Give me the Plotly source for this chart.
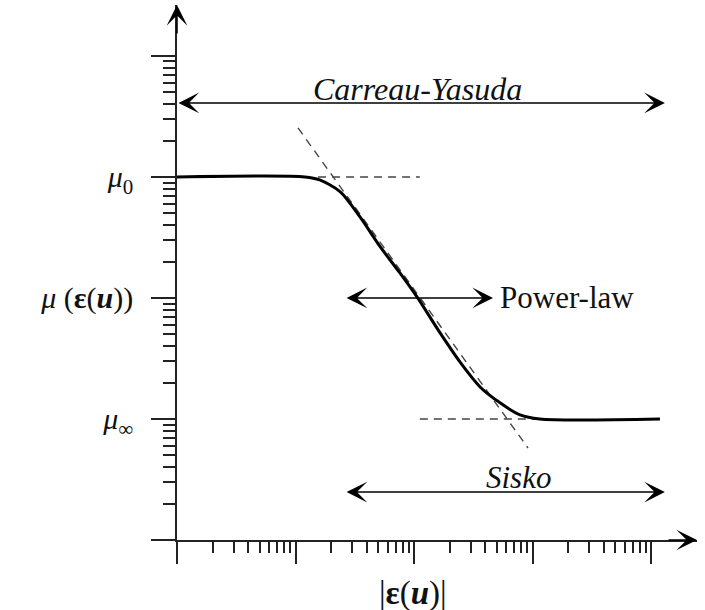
import numpy as np
import plotly.graph_objects as go

# ---- data (log-log schematic) ----
strain_rate = [1, 12, 16, 24, 35, 52, 76, 106, 166, 244, 361, 532, 785, 1150, 11900]
viscosity = [1000, 1000, 945, 751, 467, 264, 161, 102, 51.4, 29.6, 18.4, 13.6, 10.8, 10, 10]

mu0_level = 1000
mu_inf_level = 10
mu0_dash_x = [15.5, 112]
muinf_dash_x = [112, 1157]
powerlaw_dash_x = [10.5, 916]
powerlaw_dash_y = [2541, 5.76]

major_vals = [1, 10, 100, 1000, 10000]
minor_vals = [k * 10 ** n for n in range(4) for k in range(2, 10)]
y_ticktext = [" ", "<i>μ</i><sub>∞</sub>", "<i>μ</i> (<b>ε</b>(<b><i>u</i></b>))", "<i>μ</i><sub>0</sub>", " "]
x_title = "|<b>ε</b>(<b><i>u</i></b>)|"

carreau_span = [1, 13100]
carreau_level = 4090
powerlaw_span = [26.2, 464]
powerlaw_level = 100
sisko_span = [26.2, 13100]
sisko_level = 2.49

label_names = ["<i>Carreau-Yasuda</i>", "Power-law", "<i>Sisko</i>"]
label_x = [106, 512, 755]
label_y = [5330, 100, 3.3]
label_anchor = ["center", "left", "center"]
label_size = [32, 31, 31]

FONT = "Liberation Serif"
AX = "#222222"

fig = go.Figure()

dash_style = dict(color="#444", width=1.4, dash="8px,6px")
fig.add_trace(go.Scatter(x=mu0_dash_x, y=[mu0_level, mu0_level], mode="lines",
                         line=dash_style, hoverinfo="skip"))
fig.add_trace(go.Scatter(x=muinf_dash_x, y=[mu_inf_level, mu_inf_level], mode="lines",
                         line=dash_style, hoverinfo="skip"))
fig.add_trace(go.Scatter(x=powerlaw_dash_x, y=powerlaw_dash_y, mode="lines",
                         line=dash_style, hoverinfo="skip"))
fig.add_trace(go.Scatter(x=strain_rate, y=viscosity, mode="lines",
                         line=dict(color="black", width=3, shape="spline", smoothing=0.8),
                         hoverinfo="skip"))

L = np.log10
HEAD = dict(arrowhead=3, arrowsize=2.3, arrowwidth=1.5, arrowcolor="black")

def double_arrow(span, level):
    fig.add_annotation(x=L(span[1]), y=L(level), ax=L(span[0]), ay=L(level),
                       xref="x", yref="y", axref="x", ayref="y", text="",
                       showarrow=True, startarrowhead=3, startarrowsize=2.3,
                       arrowside="end+start", **HEAD)

double_arrow(carreau_span, carreau_level)
double_arrow(powerlaw_span, powerlaw_level)
double_arrow(sisko_span, sisko_level)

for name, xx, yy, anc, sz in zip(label_names, label_x, label_y, label_anchor, label_size):
    fig.add_annotation(x=L(xx), y=L(yy), xref="x", yref="y", text=name, showarrow=False,
                       xanchor=anc, yanchor="middle",
                       font=dict(family=FONT, size=sz, color="#111"))

# axis arrowheads
fig.add_annotation(x=1, y=0, xref="paper", yref="paper", ax=-30, ay=0, text="",
                   showarrow=True, **HEAD)
fig.add_annotation(x=0, y=1, xref="paper", yref="paper", ax=0, ay=30, text="",
                   showarrow=True, **HEAD)

# x-axis title
fig.add_annotation(x=L(98), y=0, xref="x", yref="paper", yshift=-53, text=x_title,
                   showarrow=False, xanchor="center", yanchor="middle",
                   font=dict(family=FONT, size=33, color="#111"))

fig.update_layout(
    width=705, height=610, autosize=False,
    margin=dict(l=177, r=8, t=5, b=70),
    paper_bgcolor="white", plot_bgcolor="white",
    showlegend=False,
    xaxis=dict(type="log", range=[0, 4.388], showgrid=False, zeroline=False,
               showline=True, linecolor=AX, linewidth=1.5,
               ticks="outside", ticklen=22, tickwidth=1.5, tickcolor=AX,
               tickvals=major_vals, showticklabels=False,
               minor=dict(tickvals=minor_vals, ticks="outside", ticklen=11,
                          tickwidth=1.5, tickcolor=AX, showgrid=False)),
    yaxis=dict(type="log", range=[0, 4.421], showgrid=False, zeroline=False,
               showline=True, linecolor=AX, linewidth=1.5,
               ticks="outside", ticklen=24, tickwidth=1.5, tickcolor=AX,
               tickvals=major_vals, ticktext=y_ticktext, ticklabelstandoff=12,
               tickfont=dict(family=FONT, size=30, color="#111"),
               minor=dict(tickvals=minor_vals, ticks="outside", ticklen=12,
                          tickwidth=1.5, tickcolor=AX, showgrid=False)),
)

fig.write_html("out.html", config={"displayModeBar": False})
